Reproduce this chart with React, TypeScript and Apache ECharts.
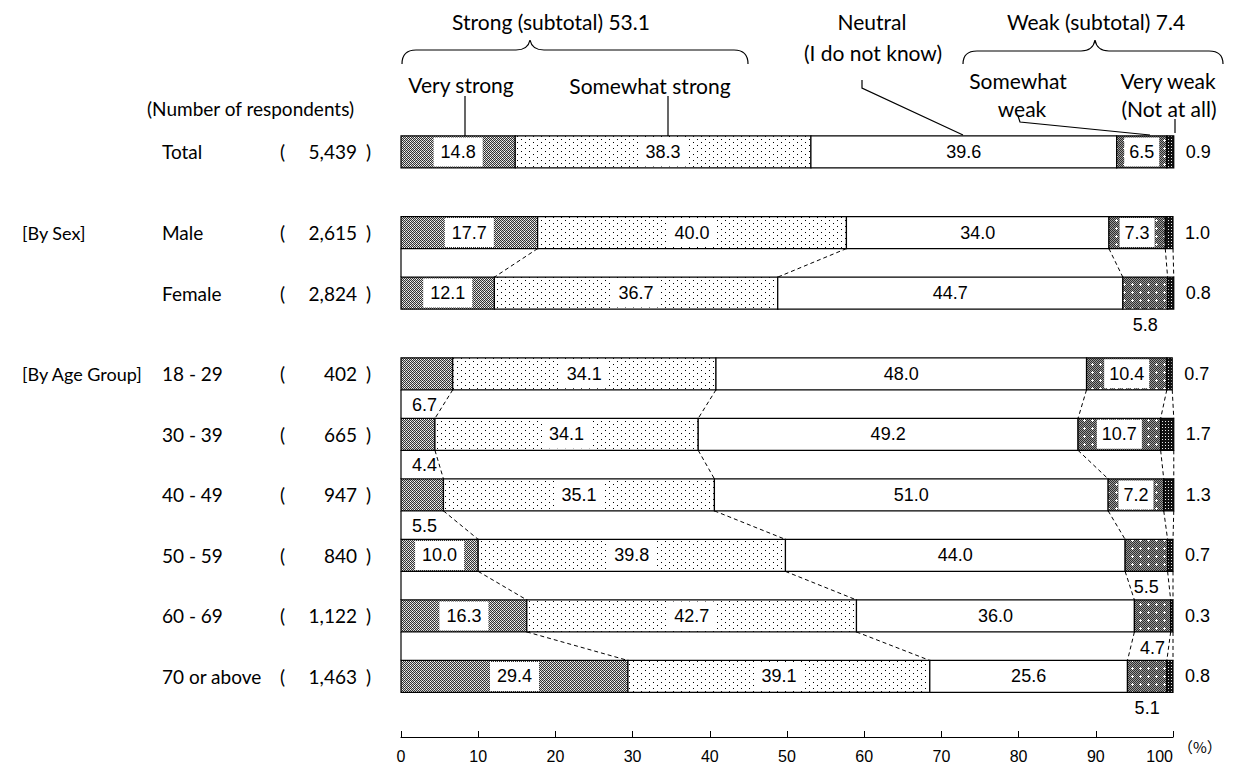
import { useEffect, useRef } from "react";
import * as echarts from "echarts";

// ---------- data ----------
const rowLabels = ["Total", "Male", "Female", "18 - 29", "30 - 39", "40 - 49", "50 - 59", "60 - 69", "70 or above"];
const respondents = ["5,439", "2,615", "2,824", "402", "665", "947", "840", "1,122", "1,463"];
const groupTitles = ["", "[By Sex]", "", "[By Age Group]", "", "", "", "", ""];
const groupOf = [0, 1, 1, 2, 2, 2, 2, 2, 2];
const rowPositions = [0, 4, 7, 11, 14, 17, 20, 23, 26];

const veryStrong = [14.8, 17.7, 12.1, 6.7, 4.4, 5.5, 10.0, 16.3, 29.4];
const somewhatStrong = [38.3, 40.0, 36.7, 34.1, 34.1, 35.1, 39.8, 42.7, 39.1];
const neutral = [39.6, 34.0, 44.7, 48.0, 49.2, 51.0, 44.0, 36.0, 25.6];
const somewhatWeak = [6.5, 7.3, 5.8, 10.4, 10.7, 7.2, 5.5, 4.7, 5.1];
const veryWeak = [0.9, 1.0, 0.8, 0.7, 1.7, 1.3, 0.7, 0.3, 0.8];

const strongSubtotal = "53.1";
const weakSubtotal = "7.4";
const segments = [veryStrong, somewhatStrong, neutral, somewhatWeak, veryWeak];

// ---------- styles ----------
const BAR_H = 32;
const CAL = "Lato, 'Noto Sans', sans-serif";
const NUM = "'Liberation Sans', Arial, sans-serif";
const NUM_FS = 18;
const LBL_FS = 19;
const HDR_FS = 21;

function tile(map: string[], colors: Record<string, string>) {
  const h = map.length;
  const w = map[0].length;
  const c = document.createElement("canvas");
  c.width = w;
  c.height = h;
  const ctx = c.getContext("2d")!;
  for (let y = 0; y < h; y++)
    for (let x = 0; x < w; x++) {
      ctx.fillStyle = colors[map[y][x]];
      ctx.fillRect(x, y, 1, 1);
    }
  return { image: c.toDataURL(), repeat: "repeat", imageWidth: w, imageHeight: h };
}

function makePatterns() {
  const vs = tile(["#-#-", "-#w#", "#-#-", "w#-#"], { "#": "#333333", "-": "#cfcfcf", w: "#ffffff" });
  const ss = tile(["........", ".#......", "........", "........", ".....#..", "........"], { ".": "#ffffff", "#": "#000000" });
  const sw = tile(
    ["#-#-#-#-", "-#-#-#-#", "#-#-#-#-", "-#-#w#-#", "#-#www#-", "-#-#w#-#", "#-#-#-#-", "-#-#-#-#"],
    { "#": "#2e2e2e", "-": "#9a9a9a", w: "#ffffff" }
  );
  const vw = tile(["###", "#w#", "###"], { "#": "#111111", w: "#e8e8e8" });
  return [vs, ss, "#ffffff", sw, vw];
}

function txt(text: string, x: number, y: number, align: string, extra: any = {}) {
  return {
    type: "text",
    x,
    y,
    style: {
      text,
      fill: "#000",
      fontFamily: CAL,
      fontSize: LBL_FS,
      align,
      verticalAlign: "middle",
      ...extra,
    },
  };
}

export default function App() {
  const ref = useRef<HTMLDivElement>(null);

  useEffect(() => {
    if (!ref.current) return;
    const chart = echarts.init(ref.current, null, { renderer: "svg" });
    const patterns = makePatterns();

    echarts.graphic.registerShape(
      "braceStrong",
      echarts.graphic.extendPath(
        "M402,64 Q402,50 416,50 L516,50 Q528,50 530,40 Q532,50 544,50 L734,50 Q748,50 748,64",
        {}
      )
    );
    echarts.graphic.registerShape(
      "braceWeak",
      echarts.graphic.extendPath(
        "M963,64 Q963,51 977,51 L1081,51 Q1093,51 1095,40 Q1097,51 1109,51 L1209,51 Q1223,51 1223,64",
        {}
      )
    );

    const data = rowPositions.map((p, i) => [
      veryStrong[i],
      somewhatStrong[i],
      neutral[i],
      somewhatWeak[i],
      veryWeak[i],
      p,
    ]);

    const renderItem = (params: any, api: any) => {
      const i = params.dataIndex;
      const vals = [0, 1, 2, 3, 4].map((k) => api.value(k) as number);
      const pos = api.value(5) as number;
      const p0 = api.coord([0, pos]);
      const yc = p0[1];
      const top = yc - BAR_H / 2;
      const bottom = yc + BAR_H / 2;
      const children: any[] = [];

      // connectors to the next row of the same group
      if (i + 1 < rowPositions.length && groupOf[i] > 0 && groupOf[i] === groupOf[i + 1]) {
        const nextPos = rowPositions[i + 1];
        const nTop = api.coord([0, nextPos])[1] - BAR_H / 2;
        children.push({
          type: "line",
          shape: { x1: p0[0], y1: bottom, x2: api.coord([0, nextPos])[0], y2: nTop },
          style: { stroke: "#000", lineWidth: 1.2 },
        });
        let c1 = 0;
        let c2 = 0;
        for (let k = 0; k < 5; k++) {
          c1 += vals[k];
          c2 += segments[k][i + 1];
          children.push({
            type: "line",
            shape: { x1: api.coord([c1, pos])[0], y1: bottom, x2: api.coord([c2, nextPos])[0], y2: nTop },
            style: { stroke: "#000", lineWidth: 1, lineDash: [4, 3] },
          });
        }
      }

      // bar segments
      let cum = 0;
      const labels: any[] = [];
      vals.forEach((v, k) => {
        const xa = api.coord([cum, pos])[0];
        const xb = api.coord([cum + v, pos])[0];
        children.push({
          type: "rect",
          shape: { x: xa, y: top, width: xb - xa, height: BAR_H },
          style: { fill: patterns[k], stroke: "#000", lineWidth: 1.2 },
        });
        const label = v.toFixed(1);
        const xm = (xa + xb) / 2;
        const boxed = { fontFamily: NUM, fontSize: NUM_FS, backgroundColor: "#fff", padding: [6, 7, 5, 7] };
        const plain = { fontFamily: NUM, fontSize: NUM_FS };
        if (k === 0) {
          if (v >= 9) labels.push(txt(label, xm, yc, "center", boxed));
          else labels.push(txt(label, xa + 11, bottom + 15, "left", plain));
        } else if (k === 1) {
          labels.push(txt(label, xm, yc, "center", boxed));
        } else if (k === 2) {
          labels.push(txt(label, xm, yc, "center", plain));
        } else if (k === 3) {
          if (v >= 6) labels.push(txt(label, xm, yc, "center", { ...boxed, padding: [6, 5, 5, 5] }));
          else labels.push(txt(label, xm, bottom + 16, "center", plain));
        } else {
          labels.push(txt(label, xb + 12, yc, "left", plain));
        }
        cum += v;
      });
      children.push(...labels);

      // left-hand labels
      children.push(txt(rowLabels[i], 162, yc, "left"));
      children.push(txt("(", 280, yc, "left"));
      children.push(txt(respondents[i], 357, yc, "right"));
      children.push(txt(")", 366, yc, "left"));
      if (groupTitles[i]) children.push(txt(groupTitles[i], 22, yc, "left", { fontSize: 18 }));

      return { type: "group", children };
    };

    const hdr = (text: string, x: number, y: number, align = "center") => ({
      type: "text",
      x,
      y,
      style: { text, fill: "#000", fontFamily: CAL, fontSize: HDR_FS, align, verticalAlign: "middle" },
    });
    const lineStyle = { stroke: "#000", lineWidth: 1.2, fill: "none" };

    chart.setOption({
      animation: false,
      grid: { left: 401, right: 64, top: 51, bottom: 30, containLabel: false },
      xAxis: {
        type: "value",
        min: 0,
        max: 100,
        interval: 10,
        axisLine: { show: true, onZero: false, lineStyle: { color: "#000", width: 1.2 } },
        axisTick: { show: true, inside: true, length: 6, lineStyle: { color: "#000" } },
        splitLine: { show: false },
        axisLabel: {
          color: "#000",
          fontFamily: "'Liberation Sans Narrow', 'Liberation Sans', sans-serif",
          fontSize: 16,
          margin: 11,
          alignMaxLabel: "right",
        },
      },
      yAxis: { type: "value", min: -5, max: 29, inverse: true, show: false },
      series: [
        {
          type: "custom",
          renderItem,
          data,
          encode: { x: [0, 1, 2, 3, 4], y: 5 },
          clip: false,
          silent: true,
        },
      ],
      graphic: [
        hdr(`Strong (subtotal) ${strongSubtotal}`, 551, 21),
        { type: "braceStrong", style: lineStyle },
        hdr("Very strong", 461, 84),
        hdr("Somewhat strong", 650, 85),
        { type: "line", shape: { x1: 465, y1: 96, x2: 465, y2: 136 }, style: lineStyle },
        { type: "line", shape: { x1: 668, y1: 96, x2: 668, y2: 136 }, style: lineStyle },
        hdr("Neutral", 872, 21),
        hdr("(I do not know)", 873, 52),
        { type: "polyline", shape: { points: [[862, 80], [862, 88], [963, 135]] }, style: lineStyle },
        hdr(`Weak (subtotal) ${weakSubtotal}`, 1096, 21),
        { type: "braceWeak", style: lineStyle },
        hdr("Somewhat", 1018, 80),
        hdr("weak", 1022, 108),
        hdr("Very weak", 1168, 80),
        hdr("(Not at all)", 1169, 108),
        { type: "polyline", shape: { points: [[1018, 116], [1020, 122], [1150, 135]] }, style: lineStyle },
        { type: "line", shape: { x1: 1175, y1: 119, x2: 1175, y2: 133 }, style: lineStyle },
        {
          type: "text",
          x: 147,
          y: 108,
          style: { text: "(Number of respondents)", fill: "#000", fontFamily: CAL, fontSize: LBL_FS, verticalAlign: "middle" },
        },
        {
          type: "text",
          x: 1178,
          y: 746,
          style: { text: "（%）", fill: "#000", fontFamily: "'Noto Sans CJK JP', sans-serif", fontSize: 15, verticalAlign: "middle" },
        },
      ],
    });
    return () => chart.dispose();
  }, []);

  return (
    <div
      ref={ref}
      style={{ position: "fixed", left: 0, top: 0, width: 1237, height: 767, background: "#fff" }}
    />
  );
}
